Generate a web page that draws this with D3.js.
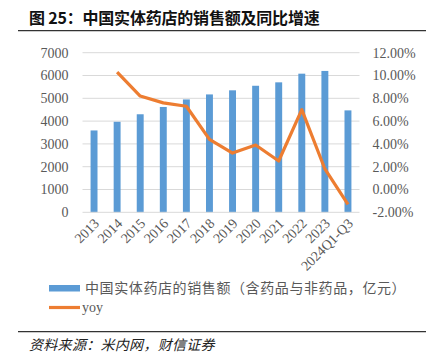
<!DOCTYPE html>
<html><head><meta charset="utf-8">
<script src="https://cdn.jsdelivr.net/npm/d3@7"></script>
<style>body{margin:0;background:#fff}svg{display:block}</style>
</head><body><svg id="c" width="434" height="356"></svg>
<script>
const categories = ["2013","2014","2015","2016","2017","2018","2019","2020","2021","2022","2023","2024Q1-Q3"];
const sales = [3590,3970,4300,4620,4950,5170,5350,5550,5700,6080,6200,4470];
const yoy = [null,10.3,8.2,7.6,7.3,4.4,3.2,3.9,2.5,7.0,1.8,-1.3];
const leftTicks = [0,1000,2000,3000,4000,5000,6000,7000];
const rightTicks = [-2,0,2,4,6,8,10,12];
const title = "图 25：中国实体药店的销售额及同比增速";
const legendLabels = ["中国实体药店的销售额（含药品与非药品，亿元）","yoy"];
const source = "资料来源：米内网，财信证券";

const svg = d3.select("#c");
const serif = "'Liberation Serif','Times New Roman',serif";
const cjk = "'Noto Sans CJK SC','Noto Sans',sans-serif";
const gray = "#595959";

const x = d3.scaleBand().domain(categories).range([82.5,359.5]).paddingInner(0.7).paddingOuter(0.35);
const yL = d3.scaleLinear().domain([0,7000]).range([212.3,52.7]);
const yR = d3.scaleLinear().domain([-2,12]).range([212.3,52.7]);

// title
svg.append("text").attr("x",29).attr("y",24).attr("font-family",cjk).attr("font-weight","bold")
  .attr("font-size",16).attr("fill","#111").attr("letter-spacing",-0.2).text(title);
svg.append("line").attr("x1",18).attr("x2",426).attr("y1",30.7).attr("y2",30.7).attr("stroke","#333").attr("stroke-width",1.3);

// grid
svg.append("g").selectAll("line").data(leftTicks.slice(1)).join("line")
  .attr("x1",82.5).attr("x2",359.5).attr("y1",d=>yL(d)).attr("y2",d=>yL(d))
  .attr("stroke","#d9d9d9").attr("stroke-width",1);

// left axis
const gL = svg.append("g").attr("transform","translate(82.5,0)")
  .call(d3.axisLeft(yL).tickValues(leftTicks).tickSize(0).tickPadding(14).tickFormat(d3.format("d")));
gL.select(".domain").remove();
gL.selectAll("text").attr("font-family",serif).attr("font-size",14).attr("fill",gray);

// right axis
const gR = svg.append("g").attr("transform","translate(359.5,0)")
  .call(d3.axisRight(yR).tickValues(rightTicks).tickSize(0).tickPadding(13).tickFormat(d=>d.toFixed(2)+"%"));
gR.select(".domain").remove();
gR.selectAll("text").attr("font-family",serif).attr("font-size",14).attr("fill",gray);

// bars
svg.append("g").selectAll("rect").data(categories).join("rect")
  .attr("x",d=>x(d)).attr("width",x.bandwidth())
  .attr("y",(d,i)=>yL(sales[i])).attr("height",(d,i)=>yL(0)-yL(sales[i]))
  .attr("fill","#5b9bd5");

// baseline
svg.append("line").attr("x1",82.5).attr("x2",359.5).attr("y1",yL(0)).attr("y2",yL(0)).attr("stroke","#d9d9d9");

// x axis labels
const gX = svg.append("g").attr("transform",`translate(0,${yL(0)})`)
  .call(d3.axisBottom(x).tickSize(0).tickPadding(0));
gX.select(".domain").remove();
gX.selectAll("text").attr("font-family",serif).attr("font-size",14).attr("fill",gray)
  .attr("text-anchor","end").attr("dy",null).attr("y",0)
  .attr("transform","translate(6,12) rotate(-45)");

// line
const pts = categories.map((c,i)=>({c,v:yoy[i]})).filter(d=>d.v!==null);
svg.append("path").datum(pts)
  .attr("d",d3.line().x(d=>x(d.c)+x.bandwidth()/2).y(d=>yR(d.v)))
  .attr("fill","none").attr("stroke","#ed7d31").attr("stroke-width",3.2).attr("stroke-linejoin","round");

// legend
svg.append("rect").attr("x",49).attr("y",285).attr("width",31).attr("height",6.5).attr("fill","#5b9bd5");
svg.append("text").attr("x",85).attr("y",293).attr("font-family",cjk).attr("font-size",14).attr("fill",gray)
  .attr("letter-spacing",0.6).text(legendLabels[0]);
svg.append("line").attr("x1",49).attr("x2",80).attr("y1",307.5).attr("y2",307.5).attr("stroke","#ed7d31").attr("stroke-width",3.2);
svg.append("text").attr("x",82).attr("y",312).attr("font-family",serif).attr("font-size",14).attr("fill",gray).text(legendLabels[1]);

// bottom line & source
svg.append("line").attr("x1",18).attr("x2",426).attr("y1",331.7).attr("y2",331.7).attr("stroke","#333").attr("stroke-width",1.3);
svg.append("text").attr("x",29).attr("y",350).attr("font-family",cjk).attr("font-style","italic")
  .attr("font-size",14).attr("fill","#222").attr("letter-spacing",0.3).text(source);
</script></body></html>
